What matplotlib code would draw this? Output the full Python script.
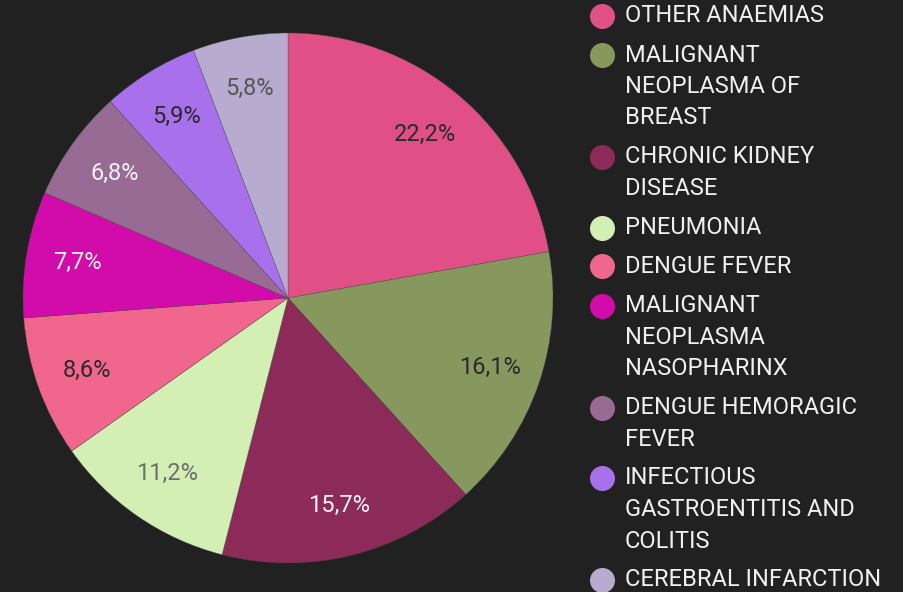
import matplotlib
matplotlib.use("Agg")
import matplotlib.pyplot as plt

categories = [
    "OTHER ANAEMIAS",
    "MALIGNANT\nNEOPLASMA OF\nBREAST",
    "CHRONIC KIDNEY\nDISEASE",
    "PNEUMONIA",
    "DENGUE FEVER",
    "MALIGNANT\nNEOPLASMA\nNASOPHARINX",
    "DENGUE HEMORAGIC\nFEVER",
    "INFECTIOUS\nGASTROENTITIS AND\nCOLITIS",
    "CEREBRAL INFARCTION",
]
values = [22.2, 16.1, 15.7, 11.2, 8.6, 7.7, 6.8, 5.9, 5.8]
colors = ["#E05086", "#87985F", "#8C2A5A", "#D4EFB4", "#F0668C",
          "#D10CAA", "#976B93", "#A970EC", "#B7ABCF"]
label_colors = ["#2a2a2a", "#2a2a2a", "#f2f2f2", "#6e6e6e", "#2a2a2a",
                "#f2f2f2", "#f2f2f2", "#2a2a2a", "#555555"]

BG = "#212121"
W, H = 904, 592
fig = plt.figure(figsize=(W / 100, H / 100), dpi=100, facecolor=BG)

cx, cy, r = 288, 298, 265
ax = fig.add_axes([(cx - r) / W, (H - cy - r) / H, 2 * r / W, 2 * r / H])
ax.set_facecolor(BG)
wedges, texts, autotexts = ax.pie(
    values, colors=colors, startangle=90, counterclock=False,
    autopct=lambda p: f"{p:.1f}%".replace(".", ","), pctdistance=0.805,
    wedgeprops=dict(edgecolor=(0.3, 0.3, 0.3, 0.6), linewidth=0.4),
    textprops=dict(family="Roboto", fontsize=17),
)
for t, c in zip(autotexts, label_colors):
    t.set_color(c)
ax.set_xlim(-1, 1)
ax.set_ylim(-1, 1)
ax.set_aspect("equal")
ax.axis("off")

# Legend drawn manually
line_h = 31.5
gap = 7.5
y = 16
mx, tx = 602, 625
for lab, col in zip(categories, colors):
    fig.add_artist(plt.Line2D([mx / W], [1 - y / H], marker="o", markersize=17,
                              color=col, linestyle="none", transform=fig.transFigure))
    lines = lab.split("\n")
    for i, ln in enumerate(lines):
        fig.text(tx / W, 1 - (y + i * line_h) / H, ln, family="Roboto",
                 fontsize=17, color="#f0f0f0", ha="left", va="center")
    y += len(lines) * line_h + gap

fig.savefig("out.png", dpi=100, facecolor=BG)
